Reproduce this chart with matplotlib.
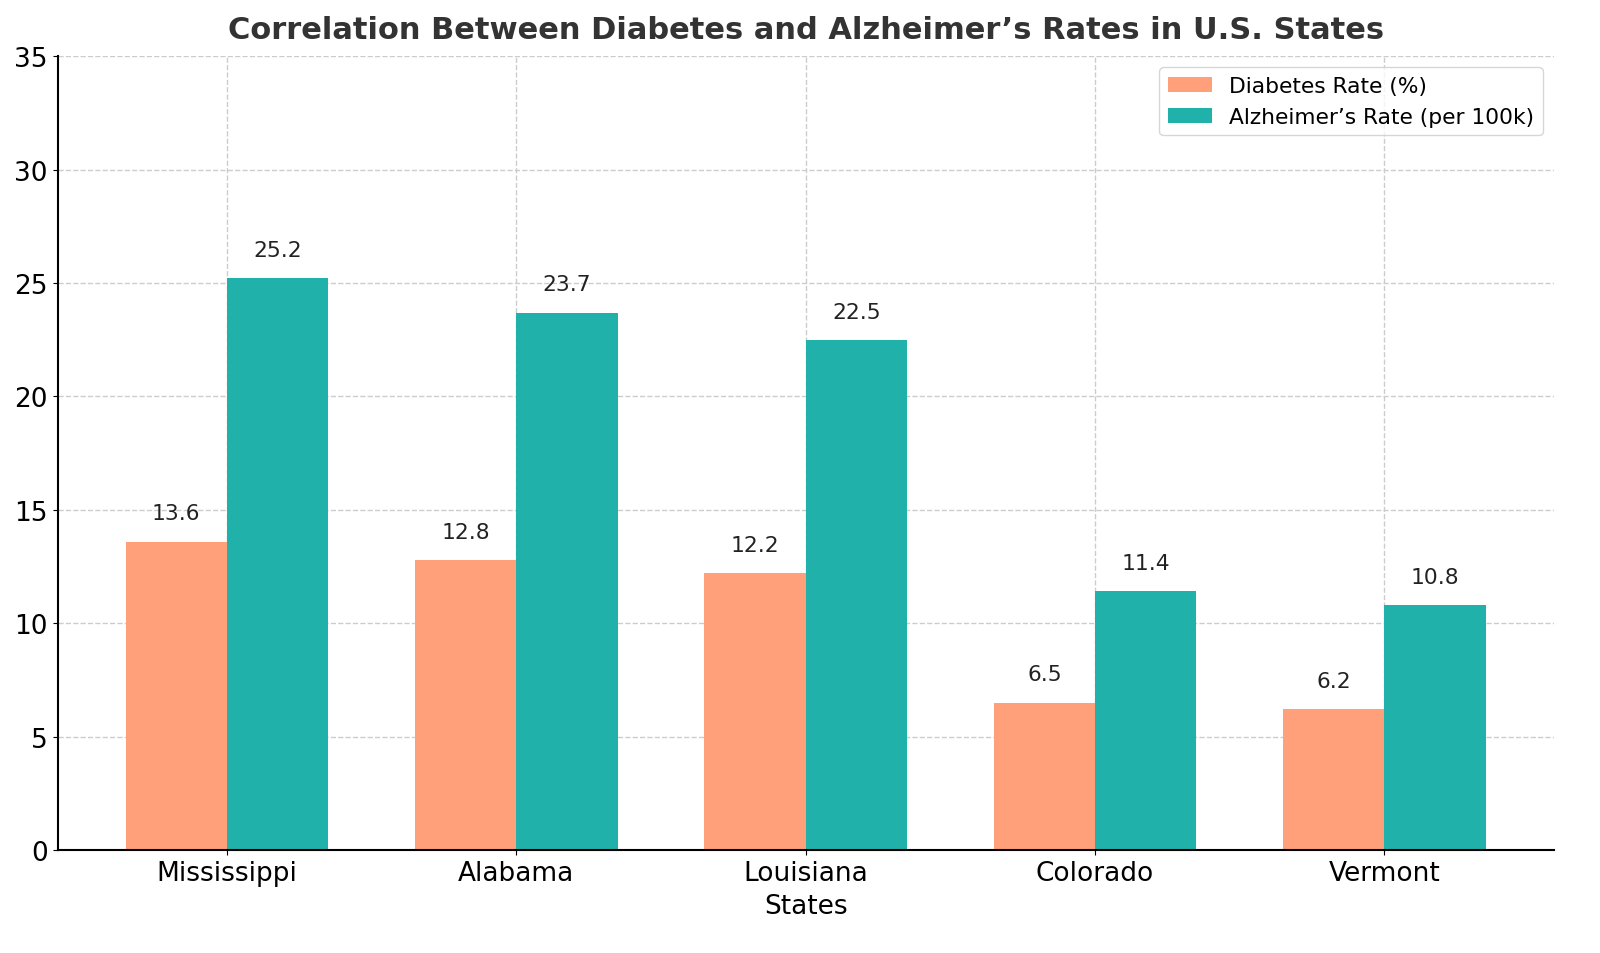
import numpy as np
import matplotlib
matplotlib.use("Agg")
import matplotlib.pyplot as plt

# data
states = ["Mississippi", "Alabama", "Louisiana", "Colorado", "Vermont"]
diabetes_rate = [13.6, 12.8, 12.2, 6.5, 6.2]
alzheimers_rate = [25.2, 23.7, 22.5, 11.4, 10.8]

x = np.arange(len(states))
width = 0.35

fig, ax = plt.subplots(figsize=(16, 9.54), dpi=100)

bars1 = ax.bar(x - width / 2, diabetes_rate, width, label="Diabetes Rate (%)", color="#FFA07A")
bars2 = ax.bar(x + width / 2, alzheimers_rate, width, label="Alzheimer’s Rate (per 100k)", color="#20B2AA")

# value labels above each bar
for bars in (bars1, bars2):
    for b in bars:
        h = b.get_height()
        ax.text(b.get_x() + b.get_width() / 2, h + 0.8, f"{h}", ha="center", va="bottom",
                fontsize=15.7, color="#222222")

ax.set_title("Correlation Between Diabetes and Alzheimer’s Rates in U.S. States",
             fontsize=22, fontweight="bold", color="#333333", pad=13)
ax.set_xlabel("States", fontsize=19, labelpad=5)
ax.set_xticks(x)
ax.set_xticklabels(states, fontsize=19)
ax.tick_params(axis="y", labelsize=19)
ax.set_ylim(0, 35)

ax.grid(True, linestyle="--", color="#cccccc", linewidth=1)
ax.set_axisbelow(True)
ax.spines["top"].set_visible(False)
ax.spines["right"].set_visible(False)
ax.spines["left"].set_linewidth(1.5)
ax.spines["bottom"].set_linewidth(1.5)

ax.legend(fontsize=15.7, loc="upper right")

fig.subplots_adjust(left=0.036, right=0.971, top=0.94, bottom=0.108)
fig.savefig("out.png", dpi=100)
